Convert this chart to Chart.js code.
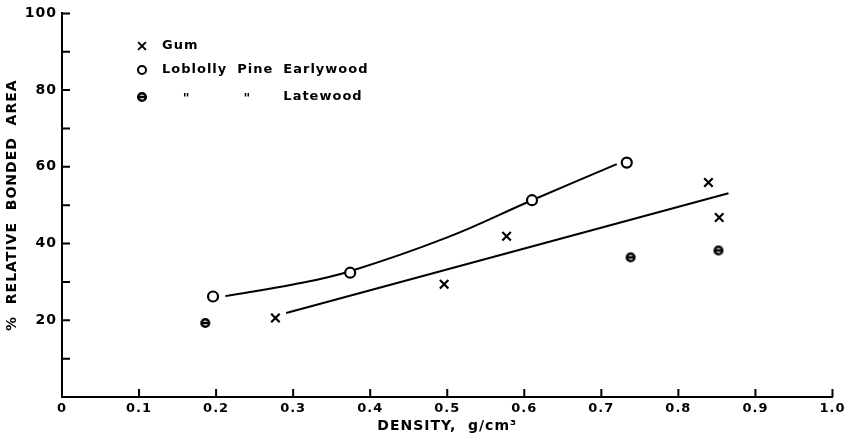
<!DOCTYPE html>
<html>
<head>
<meta charset="utf-8">
<script src="https://cdn.jsdelivr.net/npm/chart.js@4/dist/chart.umd.min.js"></script>
<style>
  html, body { margin: 0; padding: 0; background: #fff; }
  #wrap { width: 848px; height: 444px; position: relative; }
</style>
</head>
<body>
<div id="wrap"><canvas id="chart"></canvas></div>
<script>
// measured points
const gumX = [0.277, 0.496, 0.577, 0.839, 0.853];
const gumY = [20.6, 29.4, 41.9, 55.9, 46.8];
const earlyX = [0.196, 0.374, 0.610, 0.733];
const earlyY = [26.2, 32.4, 51.3, 61.1];
const lateX = [0.186, 0.738, 0.852];
const lateY = [19.3, 36.4, 38.2];

// hand-drawn fit lines
const gumFitX = [0.291, 0.865];
const gumFitY = [21.9, 53.1];
const earlyFitX = [0.212, 0.300, 0.374, 0.500, 0.610, 0.720];
const earlyFitY = [26.3, 29.3, 32.8, 41.6, 51.3, 60.7];

const yTickLabels = [20, 40, 60, 80, 100];
const legendRows = [
    ['Gum'],
    ['Loblolly', 'Pine', 'Earlywood'],
    ['"', '"', 'Latewood']
];
const xTitle = 'DENSITY,  g/cm\u00B3';
const yTitle = '%  RELATIVE  BONDED  AREA';

const toPts = (xs, ys) => xs.map((x, i) => ({ x: x, y: ys[i] }));

// circle with a bar through it, for latewood
function thetaMarker() {
    const c = document.createElement('canvas');
    c.width = 12; c.height = 12;
    const g = c.getContext('2d');
    g.strokeStyle = '#000';
    g.lineWidth = 2.5;
    g.beginPath();
    g.arc(6, 6, 3.8, 0, Math.PI * 2);
    g.stroke();
    g.beginPath();
    g.moveTo(2, 6); g.lineTo(10, 6);
    g.stroke();
    return c;
}

const FONT = "'DejaVu Sans', sans-serif";

const inwardTicks = {
    id: 'inwardTicks',
    beforeDraw(chart) {
        chart.ctx.letterSpacing = '1px';
    },
    afterDatasetsDraw(chart) {
        const ctx = chart.ctx;
        const xs = chart.scales.x, ys = chart.scales.y;
        const x0 = xs.getPixelForValue(0), y0 = ys.getPixelForValue(0);
        ctx.save();
        ctx.strokeStyle = '#000';
        ctx.lineWidth = 2;
        ctx.beginPath();
        ys.ticks.forEach(t => {
            if (t.value === 0) return;
            const py = ys.getPixelForValue(t.value);
            ctx.moveTo(x0, py); ctx.lineTo(x0 + 8, py);
        });
        xs.ticks.forEach(t => {
            if (t.value === 0) return;
            const px = xs.getPixelForValue(t.value);
            ctx.moveTo(px, y0); ctx.lineTo(px, y0 - 8);
        });
        ctx.stroke();

        // legend in the upper left
        ctx.fillStyle = '#000';
        ctx.font = 'bold 13px ' + FONT;
        ctx.letterSpacing = '1px';
        ctx.textBaseline = 'middle';
        const mx = 142, tx = 162, rowY = [46, 70, 97], gap = 10;
        const styles = ['crossRot', 'circle', thetaMarker()];
        const cols = [];
        let cx = tx;
        legendRows[1].forEach(w => {
            const wd = ctx.measureText(w).width;
            cols.push([cx, wd]);
            cx += wd + gap;
        });
        legendRows.forEach((row, r) => {
            const st = styles[r];
            ctx.save();
            ctx.lineWidth = 2;
            ctx.strokeStyle = '#000';
            ctx.fillStyle = '#fff';
            if (typeof st === 'string') {
                Chart.helpers.drawPoint(ctx, { pointStyle: st, radius: st === 'circle' ? 4 : 5.5, borderWidth: 2 }, mx, rowY[r]);
            } else {
                ctx.drawImage(st, mx - 6, rowY[r] - 6);
            }
            ctx.restore();
            row.forEach((w, i) => {
                if (r === 0) {
                    ctx.textAlign = 'left';
                    ctx.fillText(w, tx, rowY[r]);
                } else if (r === 2 && w === '"') {
                    ctx.textAlign = 'center';
                    ctx.fillText(w, cols[i][0] + cols[i][1] / 2 - 8, rowY[r] + 2);
                } else {
                    ctx.textAlign = 'left';
                    ctx.fillText(w, cols[i][0], rowY[r]);
                }
            });
        });
        ctx.restore();
    }
};

new Chart(document.getElementById('chart'), {
    data: {
        datasets: [
            {
                type: 'line',
                data: toPts(gumFitX, gumFitY),
                borderColor: '#000',
                borderWidth: 2,
                pointRadius: 0,
                fill: false,
                order: 3
            },
            {
                type: 'line',
                data: toPts(earlyFitX, earlyFitY),
                borderColor: '#000',
                borderWidth: 2,
                pointRadius: 0,
                tension: 0.4,
                fill: false,
                order: 3
            },
            {
                type: 'scatter',
                label: 'Gum',
                data: toPts(gumX, gumY),
                pointStyle: 'crossRot',
                pointRadius: 6,
                borderColor: '#000',
                borderWidth: 2.2,
                order: 1
            },
            {
                type: 'scatter',
                label: 'Loblolly Pine Earlywood',
                data: toPts(earlyX, earlyY),
                pointStyle: 'circle',
                pointRadius: 5,
                borderColor: '#000',
                backgroundColor: '#fff',
                borderWidth: 2.2,
                order: 1
            },
            {
                type: 'scatter',
                label: 'Loblolly Pine Latewood',
                data: toPts(lateX, lateY),
                pointStyle: thetaMarker(),
                order: 1
            }
        ]
    },
    options: {
        responsive: true,
        maintainAspectRatio: false,
        animation: false,
        events: [],
        layout: { padding: { top: 12, right: 15, left: 0, bottom: 0 } },
        plugins: {
            legend: { display: false },
            tooltip: { enabled: false }
        },
        scales: {
            x: {
                type: 'linear',
                min: 0,
                max: 1,
                afterFit: s => { s.height = 47; },
                border: { display: true, color: '#000', width: 2 },
                grid: { display: false, drawTicks: false },
                ticks: {
                    stepSize: 0.1,
                    padding: 4,
                    color: '#000',
                    font: { family: FONT, size: 13, weight: 'bold' },
                    maxRotation: 0,
                    callback: v => v === 0 ? '0' : v.toFixed(1)
                },
                title: {
                    display: true,
                    text: xTitle,
                    color: '#000',
                    padding: { top: 2, bottom: 9 },
                    font: { family: FONT, size: 14, weight: 'bold' }
                }
            },
            y: {
                type: 'linear',
                min: 0,
                max: 100,
                afterFit: s => { s.width = 62; },
                border: { display: true, color: '#000', width: 2 },
                grid: { display: false, drawTicks: false },
                ticks: {
                    stepSize: 10,
                    padding: 5,
                    color: '#000',
                    font: { family: FONT, size: 14, weight: 'bold' },
                    callback: v => yTickLabels.includes(v) ? String(v) : ''
                },
                title: {
                    display: true,
                    text: yTitle,
                    color: '#000',
                    padding: { top: 4, bottom: 0 },
                    font: { family: FONT, size: 14, weight: 'bold' }
                }
            }
        }
    },
    plugins: [inwardTicks]
});
</script>
</body>
</html>
